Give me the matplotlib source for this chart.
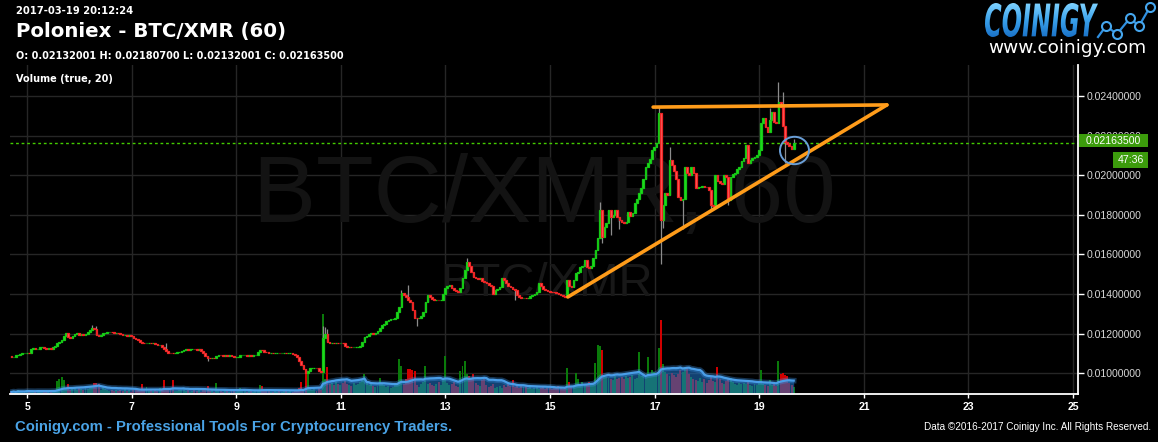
import numpy as np
import pandas as pd
import matplotlib
matplotlib.use("Agg")
import matplotlib.pyplot as plt
import matplotlib.transforms as mtransforms
from matplotlib.patches import Ellipse, PathPatch, Rectangle
from matplotlib.textpath import TextPath
from matplotlib.font_manager import FontProperties
from matplotlib.colors import LinearSegmentedColormap

plt.rcParams['font.family'] = ['Liberation Sans', 'DejaVu Sans']

# ---------------- data (BTC/XMR, 60 min candles) ----------------
start_time = '2017-03-04 16:48'
first_open = 0.01085
closes = [
    0.01083, 0.01083, 0.01090, 0.01092, 0.01096, 0.01100, 0.01100, 0.01103, 0.01100, 0.01124, 0.01128, 0.01122,
    0.01124, 0.01134, 0.01134, 0.01128, 0.01124, 0.01126, 0.01122, 0.01134, 0.01136, 0.01151, 0.01160, 0.01168,
    0.01190, 0.01201, 0.01184, 0.01176, 0.01186, 0.01196, 0.01201, 0.01193, 0.01197, 0.01193, 0.01199, 0.01210,
    0.01218, 0.01230, 0.01222, 0.01195, 0.01186, 0.01192, 0.01201, 0.01205, 0.01210, 0.01210, 0.01206, 0.01201,
    0.01205, 0.01201, 0.01197, 0.01193, 0.01193, 0.01190, 0.01195, 0.01188, 0.01178, 0.01172, 0.01168, 0.01160,
    0.01152, 0.01151, 0.01153, 0.01155, 0.01151, 0.01155, 0.01148, 0.01142, 0.01142, 0.01134, 0.01120, 0.01110,
    0.01104, 0.01103, 0.01100, 0.01104, 0.01106, 0.01109, 0.01112, 0.01117, 0.01120, 0.01119, 0.01122, 0.01122,
    0.01120, 0.01118, 0.01120, 0.01112, 0.01100, 0.01085, 0.01077, 0.01075, 0.01076, 0.01075, 0.01085, 0.01092,
    0.01090, 0.01088, 0.01092, 0.01089, 0.01090, 0.01086, 0.01083, 0.01083, 0.01084, 0.01090, 0.01092, 0.01092,
    0.01088, 0.01090, 0.01089, 0.01090, 0.01090, 0.01105, 0.01117, 0.01115, 0.01109, 0.01108, 0.01103, 0.01103,
    0.01100, 0.01100, 0.01101, 0.01100, 0.01103, 0.01103, 0.01100, 0.01100, 0.01100, 0.01097, 0.01092, 0.01080,
    0.01060, 0.01041, 0.01020, 0.01003, 0.01010, 0.01025, 0.01025, 0.01026, 0.01025, 0.01012, 0.01005, 0.01176,
    0.01200, 0.01160, 0.01155, 0.01155, 0.01152, 0.01155, 0.01151, 0.01155, 0.01150, 0.01135, 0.01130, 0.01134,
    0.01130, 0.01134, 0.01134, 0.01134, 0.01136, 0.01160, 0.01184, 0.01190, 0.01200, 0.01201, 0.01199, 0.01201,
    0.01215, 0.01230, 0.01243, 0.01250, 0.01265, 0.01269, 0.01272, 0.01275, 0.01277, 0.01310, 0.01336, 0.01403,
    0.01395, 0.01386, 0.01370, 0.01361, 0.01320, 0.01280, 0.01277, 0.01280, 0.01290, 0.01311, 0.01360, 0.01395,
    0.01386, 0.01375, 0.01370, 0.01372, 0.01370, 0.01371, 0.01400, 0.01429, 0.01440, 0.01445, 0.01430, 0.01420,
    0.01415, 0.01412, 0.01429, 0.01479, 0.01520, 0.01563, 0.01540, 0.01510, 0.01487, 0.01479, 0.01475, 0.01479,
    0.01465, 0.01462, 0.01454, 0.01445, 0.01440, 0.01400, 0.01420, 0.01425, 0.01437, 0.01480, 0.01470, 0.01455,
    0.01440, 0.01437, 0.01425, 0.01420, 0.01395, 0.01385, 0.01378, 0.01380, 0.01378, 0.01382, 0.01390, 0.01395,
    0.01400, 0.01412, 0.01454, 0.01440, 0.01425, 0.01420, 0.01415, 0.01412, 0.01410, 0.01408, 0.01405, 0.01400,
    0.01395, 0.01390, 0.01386, 0.01471, 0.01440, 0.01437, 0.01470, 0.01505, 0.01510, 0.01538, 0.01540, 0.01572,
    0.01538, 0.01530, 0.01540, 0.01580, 0.01622, 0.01681, 0.01824, 0.01690, 0.01740, 0.01760, 0.01825, 0.01790,
    0.01800, 0.01824, 0.01790, 0.01774, 0.01765, 0.01760, 0.01765, 0.01815, 0.01795, 0.01810, 0.01858, 0.01880,
    0.01909, 0.01934, 0.01980, 0.02043, 0.02060, 0.02080, 0.02127, 0.02144, 0.02161, 0.02313, 0.01774, 0.01850,
    0.01909, 0.01900, 0.02077, 0.02050, 0.02020, 0.01980, 0.01892, 0.01875, 0.01880, 0.02043, 0.02010, 0.02001,
    0.02043, 0.02010, 0.01934, 0.01942, 0.01942, 0.01945, 0.01942, 0.01940, 0.01925, 0.01850, 0.01845, 0.02001,
    0.01970, 0.01960, 0.01955, 0.02001, 0.01990, 0.01875, 0.01990, 0.02005, 0.02010, 0.02030, 0.02043, 0.02070,
    0.02085, 0.02153, 0.02060, 0.02075, 0.02085, 0.02090, 0.02100, 0.02127, 0.02262, 0.02288, 0.02245, 0.02220,
    0.02280, 0.02321, 0.02270, 0.02262, 0.02371, 0.02345, 0.02250, 0.02170, 0.02160, 0.02150, 0.02132, 0.021635,
]
volumes = [
    4, 6, 3, 8, 5, 4, 6, 9, 7, 5, 4, 6, 8, 5, 4, 6, 5, 7, 9, 6, 8, 26, 30, 34,
    28, 12, 20, 8, 10, 14, 9, 12, 10, 8, 12, 10, 14, 16, 22, 22, 20, 8, 14, 10, 8, 6, 9, 7,
    8, 6, 9, 7, 10, 6, 8, 5, 9, 12, 8, 7, 20, 9, 14, 6, 8, 7, 10, 6, 12, 9, 28, 8,
    10, 8, 28, 7, 6, 9, 8, 12, 6, 8, 5, 7, 9, 6, 8, 5, 10, 8, 16, 6, 8, 5, 22, 7,
    6, 5, 8, 6, 4, 7, 6, 5, 8, 12, 10, 6, 5, 7, 6, 5, 8, 6, 18, 16, 8, 6, 7, 5,
    5, 6, 4, 7, 5, 6, 8, 5, 6, 4, 7, 9, 12, 24, 10, 50, 46, 14, 8, 10, 7, 12, 9, 160,
    30, 54, 20, 22, 18, 24, 20, 18, 22, 26, 20, 18, 16, 22, 18, 20, 24, 28, 40, 22, 18, 20, 16, 14,
    16, 32, 20, 18, 14, 16, 12, 14, 18, 20, 70, 56, 20, 30, 50, 50, 48, 46, 18, 14, 20, 24, 56, 20,
    22, 18, 16, 20, 24, 18, 30, 76, 22, 18, 20, 24, 16, 14, 46, 56, 66, 40, 36, 30, 40, 22, 18, 16,
    28, 30, 18, 14, 16, 20, 12, 14, 16, 12, 18, 14, 20, 16, 28, 14, 16, 12, 18, 14, 16, 12, 14, 10,
    12, 14, 10, 12, 16, 10, 12, 14, 10, 12, 14, 16, 12, 10, 12, 52, 24, 14, 18, 42, 30, 16, 24, 18,
    20, 24, 18, 22, 62, 98, 96, 88, 36, 34, 32, 30, 28, 36, 30, 32, 34, 30, 36, 32, 34, 38, 30, 32,
    84, 36, 40, 34, 74, 40, 48, 44, 38, 92, 148, 60, 44, 40, 36, 42, 38, 34, 40, 48, 44, 50, 54, 40,
    34, 30, 28, 26, 32, 24, 30, 22, 28, 34, 26, 24, 54, 30, 22, 20, 26, 30, 32, 24, 20, 18, 22, 20,
    22, 20, 28, 18, 16, 20, 18, 22, 48, 20, 18, 16, 28, 18, 20, 16, 66, 40, 42, 38, 36, 22, 18, 14,
]
# notable wicks (candle index -> extreme)
high_idx = [37, 39, 71, 143, 144, 145, 179, 182, 209, 270, 297, 302, 348, 352, 354, 359]
high_val = [0.01245, 0.01240, 0.01150, 0.01240, 0.01235, 0.01225, 0.01420, 0.01445, 0.01580, 0.01866,
            0.02346, 0.02140, 0.02340, 0.02472, 0.02422, 0.021807]
low_idx = [90, 186, 231, 271, 275, 279, 298, 299, 308, 321, 329, 355]
low_val = [0.01060, 0.01240, 0.01370, 0.01660, 0.01700, 0.01730, 0.01550, 0.01733, 0.01730, 0.01820,
           0.01850, 0.02060]

last_price = 0.021635
price_ticks = [0.010, 0.012, 0.014, 0.016, 0.018, 0.020, 0.022, 0.024]
day_ticks = [5, 7, 9, 11, 13, 15, 17, 19, 21, 23, 25]
# drawn annotations (day of month, price)
trend_rise_x = [15.34, 21.44]
trend_rise_y = [0.01385, 0.02355]
trend_top_x = [16.97, 21.44]
trend_top_y = [0.02344, 0.02355]
circle_center = (19.673, 0.021248)

# ---------------- derived ----------------
closes = np.array(closes)
volumes = np.array(volumes, dtype=float)
n = len(closes)
times = pd.date_range(start_time, periods=n, freq='h')
day = np.asarray((times - pd.Timestamp('2017-03-01')) / pd.Timedelta(days=1)) + 1
opens = np.r_[first_open, closes[:-1]]
opens[-1] = 0.02132001
highs = np.maximum(opens, closes)
lows = np.minimum(opens, closes)
highs[high_idx] = np.maximum(highs[high_idx], high_val)
lows[low_idx] = np.minimum(lows[low_idx], low_val)
up = closes >= opens
vol_ma = pd.Series(volumes).rolling(20, min_periods=1).mean().values

# ---------------- figure ----------------
W, H = 1158, 442
fig = plt.figure(figsize=(W / 100, H / 100), dpi=100, facecolor='black')
L, R, T, B = 10, 1078, 65, 394
rect = [L / W, 1 - B / H, (R - L) / W, (B - T) / H]
ax_v = fig.add_axes(rect, zorder=1)
ax_p = fig.add_axes(rect, zorder=2, sharex=ax_v)
ax_v.set_facecolor('black')
ax_p.patch.set_visible(False)

xlim = (4.673, 25.094)
ylim = (0.008949, 0.025566)
ax_v.set_xlim(*xlim)
ax_p.set_ylim(*ylim)
ax_v.set_ylim(0, 658)

grid_c = '#262626'
for d in day_ticks:
    ax_v.axvline(d, color=grid_c, lw=1, zorder=0)
for p in price_ticks:
    ax_v.plot(xlim, [p, p], transform=ax_p.transData, color=grid_c, lw=1, zorder=0)

# watermarks
ax_v.text(544 / W, 1 - 197 / H, 'BTC/XMR, 60', transform=fig.transFigure, ha='center', va='center',
          fontsize=68, color='#131313', family='Liberation Sans', zorder=0.5)
ax_v.text(546 / W, 1 - 284 / H, 'BTC/XMR', transform=fig.transFigure, ha='center', va='center',
          fontsize=34, color='#181818', family='Liberation Sans', zorder=0.5)

# volume
bw = 0.9 / 24
ax_v.bar(day[up], volumes[up], width=bw, color='#0a7a0a', lw=0, zorder=2)
ax_v.bar(day[~up], volumes[~up], width=bw, color='#d00000', lw=0, zorder=2)
ax_v.fill_between(day, 0, vol_ma, color='#1f6fbf', alpha=0.6, lw=0, zorder=3)
ax_v.plot(day, vol_ma, color='#3d93e6', lw=4, alpha=0.35, zorder=4)
ax_v.plot(day, vol_ma, color='#4a9ee8', lw=1.6, zorder=4)

# candles
cw = 0.8 / 24
ax_p.vlines(day, lows, highs, color='#8c8c8c', lw=0.9, zorder=2)
ax_p.bar(day[up], (closes - opens)[up], bottom=opens[up], width=cw, color='#22dd22',
         edgecolor='#14c814', lw=0.9, zorder=3)
ax_p.bar(day[~up], (closes - opens)[~up], bottom=opens[~up], width=cw, color='#ff6060',
         edgecolor='#ee2424', lw=0.9, zorder=3)

# last price line
ax_p.axhline(last_price, color='#44cc00', lw=1.0, ls=(0, (2, 2)), zorder=1)

# annotations
ax_p.plot(trend_rise_x, trend_rise_y, color='#ff9c1a', lw=2.6, solid_capstyle='round', zorder=5)
ax_p.plot(trend_top_x, trend_top_y, color='#ff9c1a', lw=2.6, solid_capstyle='round', zorder=5)
ax_p.add_patch(Ellipse(circle_center, width=0.5545, height=0.001384, fill=False,
                       ec='#6a9fd8', lw=1.4, zorder=5))

# axes styling
for a in (ax_v, ax_p):
    for s in a.spines.values():
        s.set_visible(False)
ax_v.set_yticks([])
ax_v.tick_params(axis='x', bottom=False, labelbottom=False)
ax_p.spines['right'].set_visible(True)
ax_p.spines['bottom'].set_visible(True)
ax_p.spines['right'].set_color('white')
ax_p.spines['bottom'].set_color('white')
ax_p.spines['right'].set_linewidth(1.3)
ax_p.spines['bottom'].set_linewidth(1.3)
ax_p.yaxis.tick_right()
ax_p.set_yticks(price_ticks)
ax_p.set_yticklabels(['%.8f' % p for p in price_ticks])
ax_p.tick_params(axis='y', colors='white', labelcolor='#d6d6d6', length=4, width=1, pad=2,
                 labelsize=7.6)
ax_p.set_xticks(day_ticks)
ax_p.set_xticklabels([str(d) for d in day_ticks])
ax_p.tick_params(axis='x', colors='white', labelcolor='white', length=3, width=1, pad=3,
                 labelsize=7.6)
for lbl in ax_p.get_xticklabels():
    lbl.set_fontweight('bold')

# price / countdown boxes
def px_rect(x0, y0, x1, y1, color):
    fig.add_artist(Rectangle((x0 / W, 1 - y1 / H), (x1 - x0) / W, (y1 - y0) / H,
                             transform=fig.transFigure, fc=color, ec='none', zorder=5))

px_rect(1079, 134.5, 1148, 147, '#3c9c0c')
fig.text(1113.5 / W, 1 - 141 / H, '%.8f' % last_price, ha='center', va='center', color='white',
         fontsize=7.6, zorder=6)
px_rect(1113, 152, 1148, 167.5, '#3c9c0c')
fig.text(1130.5 / W, 1 - 160 / H, '47:36', ha='center', va='center', color='white',
         fontsize=7.6, zorder=6)

# header
hdr = dict(color='white', fontweight='bold', family='DejaVu Sans', va='center', ha='left')
fig.text(16 / W, 1 - 11.5 / H, '2017-03-19 20:12:24', fontsize=7.2, **hdr)
fig.text(16 / W, 1 - 31.5 / H, 'Poloniex - BTC/XMR (60)', fontsize=14.2, **hdr)
fig.text(16 / W, 1 - 56 / H, 'O: 0.02132001 H: 0.02180700 L: 0.02132001 C: 0.02163500',
         fontsize=7.0, **hdr)
fig.text(16 / W, 1 - 78.5 / H, 'Volume (true, 20)', fontsize=7.0, **hdr)

# footer
fig.text(15 / W, 1 - 426.5 / H, 'Coinigy.com - Professional Tools For Cryptocurrency Traders.',
         color='#4aa3e6', fontweight='bold', fontsize=10.7, va='center', ha='left')
fig.text(1151 / W, 1 - 427 / H, 'Data \u00a92016-2017 Coinigy Inc. All Rights Reserved.',
         color='white', fontsize=7.2, va='center', ha='right')

# logo
lx0, ly0, lw_, lh_ = 985, 3, 113, 34
ax_logo = fig.add_axes([lx0 / W, 1 - (ly0 + lh_) / H, lw_ / W, lh_ / H])
ax_logo.axis('off')
ax_logo.set_xlim(0, 1)
ax_logo.set_ylim(0, 1)
tp = TextPath((0, 0), 'COINIGY', prop=FontProperties(family='DejaVu Sans', weight='bold',
                                                      style='italic'), size=10)
ext = tp.get_extents()
tp = mtransforms.Affine2D().translate(-ext.x0, -ext.y0).scale(1 / ext.width, 1 / ext.height) \
    .transform_path(tp)
patch = PathPatch(tp, transform=ax_logo.transAxes, fc='none', ec='none')
ax_logo.add_patch(patch)
grad = np.linspace(0, 1, 64).reshape(-1, 1)
cm = LinearSegmentedColormap.from_list('lg', ['#7fd2ff', '#3aa2ec', '#1a72c8'])
im = ax_logo.imshow(grad, extent=[0, 1, 0, 1], aspect='auto', cmap=cm, origin='upper')
im.set_clip_path(patch)

gx = [1098, 1106, 1117, 1130, 1139, 1150]
gy = [37, 26, 34, 18, 26, 7]
fig.add_artist(plt.Line2D([x / W for x in gx], [1 - y / H for y in gy], transform=fig.transFigure,
                          color='#2f8fe0', lw=1.6, zorder=5))
fig.add_artist(plt.Line2D([x / W for x in gx[1:]], [1 - y / H for y in gy[1:]], transform=fig.transFigure,
                          ls='none', marker='o', ms=6.5, mfc='black', mec='#45a6ee', mew=1.5, zorder=6))
fig.text(1067 / W, 1 - 53 / H, 'www.coinigy.com', color='white', fontsize=13.3,
         family='DejaVu Sans', ha='center', va='baseline')

fig.savefig('out.png', dpi=100, facecolor='black')
